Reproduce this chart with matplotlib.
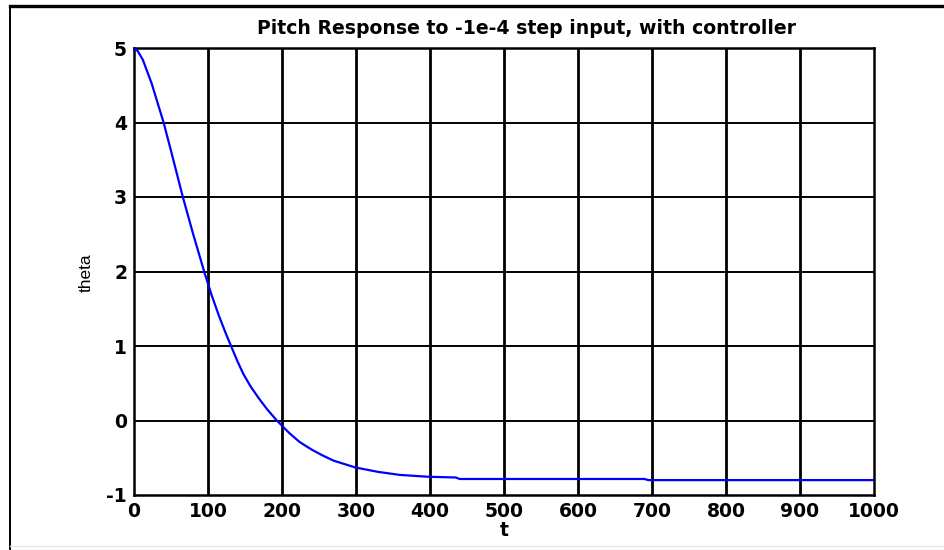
import matplotlib
matplotlib.use("Agg")
import matplotlib.pyplot as plt
from matplotlib.lines import Line2D

plt.rcParams["axes.unicode_minus"] = False

t = [0, 5, 12, 24, 40, 50, 66, 80, 96, 105, 115, 124, 132, 140, 148, 158, 170,
     180, 193, 210, 224, 240, 255, 270, 299, 330, 359, 397, 435, 440, 690, 695, 1000]
theta = [5.0, 4.96, 4.84, 4.52, 4.0, 3.62, 3.0, 2.50, 1.96, 1.68, 1.40, 1.17,
         0.98, 0.79, 0.62, 0.45, 0.28, 0.15, 0.0, -0.17, -0.29, -0.39, -0.47,
         -0.54, -0.63, -0.69, -0.73, -0.755, -0.765, -0.785, -0.785, -0.80, -0.80]
xticks = [0, 100, 200, 300, 400, 500, 600, 700, 800, 900, 1000]
yticks = [-1, 0, 1, 2, 3, 4, 5]
title = "Pitch Response to -1e-4 step input, with controller"

fig = plt.figure(figsize=(9.45, 5.5), dpi=100)
ax = fig.add_axes([134 / 945, 1 - 495 / 550, 740 / 945, 447 / 550])
ax.plot(t, theta, color="#0000ff", lw=1.6, zorder=3)
ax.set_xlim(0, 1000)
ax.set_ylim(-1, 5)
ax.set_xticks(xticks)
ax.set_yticks(yticks)
for x in xticks[1:-1]:
    ax.axvline(x, color="black", lw=2.0, zorder=2)
for y in yticks[1:-1]:
    ax.axhline(y, color="black", lw=1.4, zorder=2)
for s in ax.spines.values():
    s.set_linewidth(1.8)
    s.set_color("black")
ax.tick_params(direction="in", length=0, labelsize=13.5)
ax.tick_params(axis="x", pad=5)
ax.tick_params(axis="y", pad=5)
for lab in ax.get_xticklabels() + ax.get_yticklabels():
    lab.set_fontfamily("DejaVu Sans")
    lab.set_fontweight("bold")

fig.text(527 / 945, 1 - 28 / 550, title, ha="center", va="center",
         fontsize=13.6, fontweight="bold", family="DejaVu Sans")
fig.text(504 / 945, 1 - 531 / 550, "t", ha="center", va="center",
         fontsize=13.5, fontweight="bold", family="DejaVu Sans")
fig.text(86 / 945, 1 - 273 / 550, "theta", ha="center", va="center",
         rotation=90, fontsize=12.5, family="Liberation Sans")

# outer frame
fig.add_artist(Line2D([10 / 945, 944 / 945], [1 - 6 / 550, 1 - 6 / 550],
                      transform=fig.transFigure, color="black", lw=2.4))
fig.add_artist(Line2D([10 / 945, 10 / 945], [1 - 6 / 550, 0],
                      transform=fig.transFigure, color="black", lw=1.4))
fig.add_artist(Line2D([10 / 945, 945 / 945], [1 - 546 / 550, 1 - 546 / 550],
                      transform=fig.transFigure, color="#e6e6e6", lw=1.0))

fig.savefig("out.png", dpi=100)
